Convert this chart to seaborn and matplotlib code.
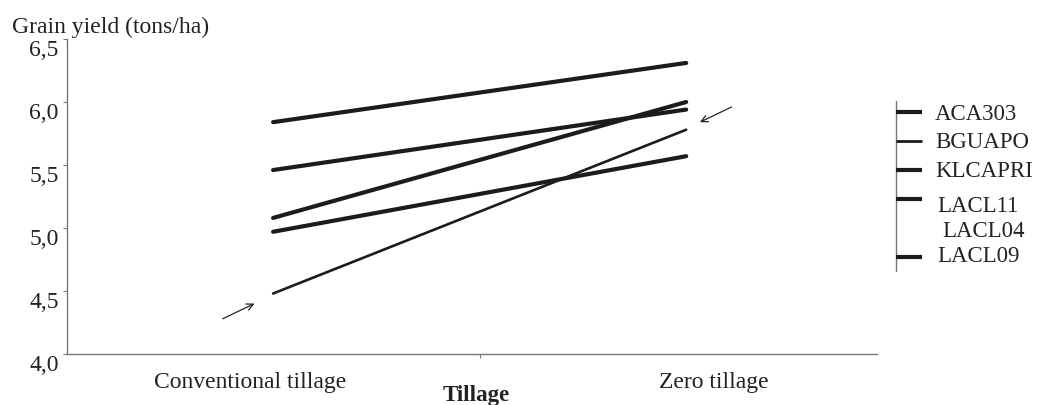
import matplotlib
matplotlib.use("Agg")
import matplotlib.pyplot as plt
import matplotlib.transforms as mtransforms
from matplotlib.lines import Line2D
import seaborn as sns
import pandas as pd

# data
tillage = ["Conventional tillage", "Zero tillage"]
varieties = ["ACA303", "BGUAPO", "KLCAPRI", "LACL11", "LACL09"]
conv_yield = [5.84, 4.48, 5.46, 5.08, 4.97]
zero_yield = [6.31, 5.78, 5.94, 6.00, 5.57]
line_w = {"ACA303": 3.0, "BGUAPO": 1.9, "KLCAPRI": 3.0, "LACL11": 3.0, "LACL09": 3.0}
legend_labels = ["ACA303", "BGUAPO", "KLCAPRI", "LACL11", "LACL04", "LACL09"]

rows = []
for v, c, z in zip(varieties, conv_yield, zero_yield):
    rows.append({"variety": v, "pos": 0, "yield": c})
    rows.append({"variety": v, "pos": 1, "yield": z})
df = pd.DataFrame(rows)

sns.set_theme(style="white")
plt.rcParams["font.family"] = ["Liberation Serif", "DejaVu Serif"]
plt.rcParams["text.color"] = "#222222"

fig = plt.figure(figsize=(10.42, 4.06), dpi=100)
ax = fig.add_axes([67 / 1042, 1 - 355 / 406, (877 - 67) / 1042, (355 - 40) / 406])

sns.lineplot(data=df, x="pos", y="yield", hue="variety", size="variety",
             palette={v: "#1c1c1c" for v in varieties}, sizes=line_w,
             legend=False, ax=ax)

# categories sit at 0 and 1 (pixels 273 and 686)
ax.set_xlim(-0.499, 1.462)
ax.set_ylim(4.0, 6.5)

# axes styling
for s in ["top", "right"]:
    ax.spines[s].set_visible(False)
for s in ["left", "bottom"]:
    ax.spines[s].set_color("#777777")
    ax.spines[s].set_linewidth(1.0)

ax.set_yticks([4.0, 4.5, 5.0, 5.5, 6.0, 6.5])
ax.set_yticklabels(["4,0", "4,5", "5,0", "5,5", "6,0", "6,5"])
ax.tick_params(axis="y", left=True, length=3, width=0.8, color="#777777",
               labelsize=17, pad=3, labelcolor="#222222")
off = mtransforms.ScaledTranslation(0, -8 / 100, fig.dpi_scale_trans)
for lab in ax.get_yticklabels():
    lab.set_transform(lab.get_transform() + off)

ax.set_xticks([-0.056, 1.068])
ax.set_xticklabels(tillage)
ax.set_xticks([0.5], minor=True)
ax.tick_params(axis="x", which="major", bottom=False, labelsize=17, pad=6,
               labelcolor="#222222")
ax.tick_params(axis="x", which="minor", bottom=True, length=3, width=0.8,
               color="#777777")
ax.set_xlabel("")
ax.set_ylabel("")

fig.text(12 / 1042, 1 - 27 / 406, "Grain yield (tons/ha)", fontsize=17,
         ha="left", va="center")
fig.text(476 / 1042, 1 - 396 / 406, "Tillage", fontsize=16.5, fontweight="bold",
         ha="center", va="center")

# arrows pointing at the thin line
arrow = dict(arrowstyle="->", color="#222222", lw=0.9, mutation_scale=12)
ax.annotate("", xy=(-0.039, 4.41), xytext=(-0.128, 4.27), arrowprops=arrow)
ax.annotate("", xy=(1.027, 5.83), xytext=(1.116, 5.97), arrowprops=arrow)

# legend drawn by hand
W, H = 1042, 406
fig.add_artist(Line2D([896 / W, 896 / W], [1 - 102 / H, 1 - 272 / H],
                      color="#777777", lw=1.0))
leg_line_y = [113, 142, 171, 200, None, 258]
leg_text_y = [114, 142, 172, 206, 232, 256]
leg_text_x = [935, 935, 935, 937, 942, 937]
leg_lw = [3.0, 2.0, 3.0, 3.0, 0, 3.0]
for lab, ly, ty, tx, lw in zip(legend_labels, leg_line_y, leg_text_y, leg_text_x, leg_lw):
    if ly is not None:
        fig.add_artist(Line2D([896 / W, 922 / W], [1 - ly / H, 1 - ly / H],
                              color="#1c1c1c", lw=lw, solid_capstyle="butt"))
    fig.text(tx / W, 1 - ty / H, lab, fontsize=16.5, ha="left", va="center")

fig.savefig("out.png", dpi=100)
